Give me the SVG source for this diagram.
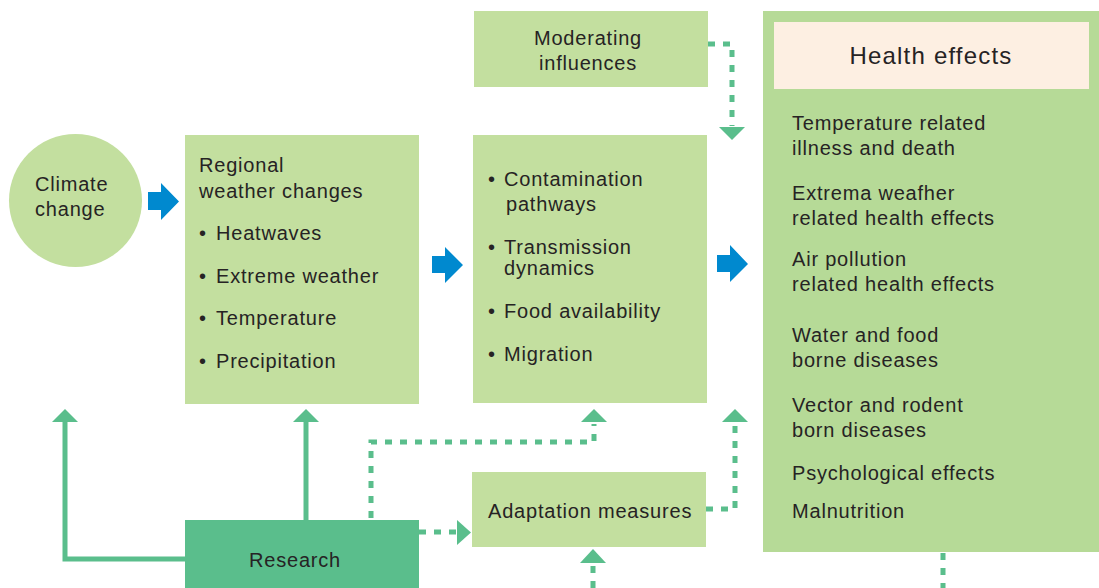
<svg xmlns="http://www.w3.org/2000/svg" width="1099" height="588" viewBox="0 0 1099 588">
<defs>
<style>
text{font-family:"Liberation Sans",Arial,sans-serif;font-size:20px;fill:#262324;letter-spacing:0.8px}
.box{fill:#C3DF9F}
.hbox{fill:#B6DA97}
.blue{fill:#0089CF}
.solid{fill:none;stroke:#5ABE8C;stroke-width:5}
.dot{fill:none;stroke:#5ABE8C;stroke-width:5;stroke-dasharray:7 8}
.head{fill:#5ABE8C}
.c{text-anchor:middle}
</style>
</defs>
<rect width="1099" height="588" fill="#FFFFFF"/>
<g id="connectors">
<polygon class="blue" points="148,192 161,192 161,183 179,201.5 161,220 161,210 148,210"/>
<polygon class="blue" points="432,256 445,256 445,247 463,265 445,283 445,273 432,273"/>
<polygon class="blue" points="717,255 730,255 730,245 748,264 730,282 730,272 717,272"/>
<path class="dot" d="M708,44 H732 V126"/>
<polygon class="head" points="719,127 745,127 732,140"/>
<path class="solid" d="M185,559 H65 V420"/>
<polygon class="head" points="52,422 78,422 65,409"/>
<path class="solid" d="M306,520 V420"/>
<polygon class="head" points="293,422 319,422 306,409"/>
<path class="dot" d="M371,518 V442 H594 V424"/>
<polygon class="head" points="581,422 607,422 594,409"/>
<path class="dot" d="M419,532 H457"/>
<polygon class="head" points="457,520 471,532.5 457,545"/>
<path class="dot" d="M706,509 H735 V424"/>
<polygon class="head" points="722,422 748,422 735,409"/>
<path class="dot" d="M593,588 V562"/>
<polygon class="head" points="580,563 606,563 593,549"/>
<path class="dot" d="M943,553 V588"/>
</g>
<g id="climate-change">
<circle cx="75.5" cy="200.5" r="66.5" class="box"/>
<text x="35" y="191">Climate</text>
<text x="35" y="216">change</text>
</g>
<g id="regional-weather">
<rect class="box" x="185" y="135" width="234" height="269"/>
<text x="199" y="172">Regional</text>
<text x="199" y="198">weather changes</text>
<text x="199" y="240">•</text><text x="216" y="240">Heatwaves</text>
<text x="199" y="283">•</text><text x="216" y="283">Extreme weather</text>
<text x="199" y="325">•</text><text x="216" y="325">Temperature</text>
<text x="199" y="368">•</text><text x="216" y="368">Precipitation</text>
</g>
<g id="moderating-influences">
<rect class="box" x="474" y="11" width="234" height="76"/>
<text class="c" x="588" y="45">Moderating</text>
<text class="c" x="588" y="70">influences</text>
</g>
<g id="pathways">
<rect class="box" x="473" y="135" width="234" height="268"/>
<text x="488" y="186">•</text><text x="504" y="186">Contamination</text>
<text x="506" y="211">pathways</text>
<text x="488" y="254">•</text><text x="504" y="254">Transmission</text>
<text x="504" y="275">dynamics</text>
<text x="488" y="318">•</text><text x="504" y="318">Food availability</text>
<text x="488" y="361">•</text><text x="504" y="361">Migration</text>
</g>
<g id="health-effects">
<rect class="hbox" x="763" y="11" width="336" height="541"/>
<rect x="774" y="22" width="315" height="67" fill="#FDEFE2"/>
<text class="c" x="931" y="64" style="font-size:24px;letter-spacing:1.2px">Health effects</text>
<text x="792" y="130">Temperature related</text>
<text x="792" y="155">illness and death</text>
<text x="792" y="200">Extrema weafher</text>
<text x="792" y="225">related health effects</text>
<text x="792" y="266">Air pollution</text>
<text x="792" y="291">related health effects</text>
<text x="792" y="342">Water and food</text>
<text x="792" y="367">borne diseases</text>
<text x="792" y="412">Vector and rodent</text>
<text x="792" y="437">born diseases</text>
<text x="792" y="480">Psychological effects</text>
<text x="792" y="518">Malnutrition</text>
</g>
<g id="adaptation-measures">
<rect class="box" x="472" y="472" width="234" height="75"/>
<text x="488" y="518">Adaptation measures</text>
</g>
<g id="research">
<rect x="185" y="520" width="234" height="68" fill="#5ABE8C"/>
<text class="c" x="295" y="567">Research</text>
</g>
</svg>
